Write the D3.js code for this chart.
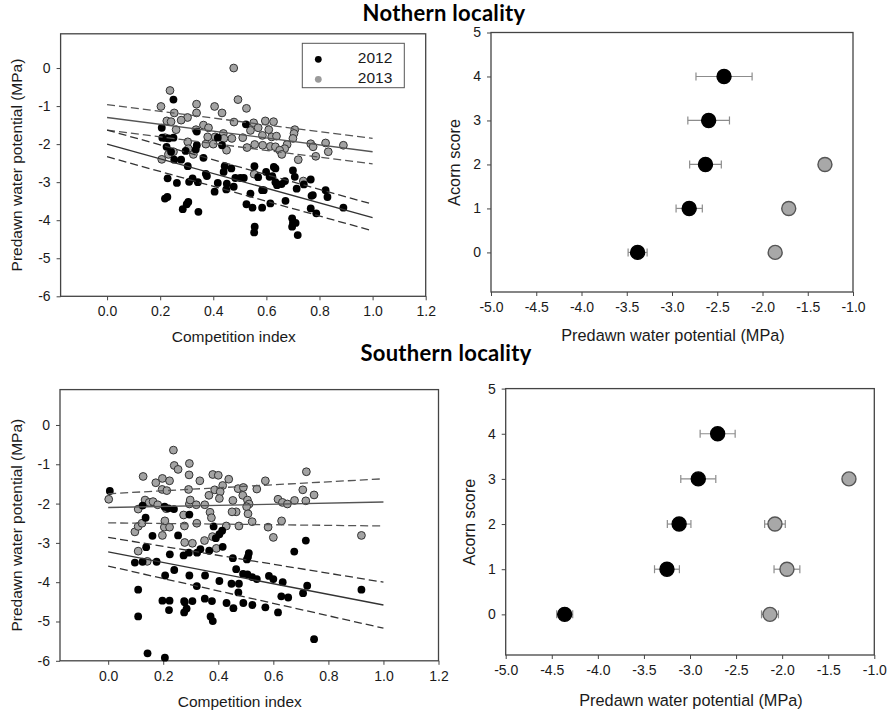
<!DOCTYPE html>
<html>
<head>
<meta charset="utf-8">
<script src="https://cdn.jsdelivr.net/npm/d3@7"></script>
<style>
  body { margin: 0; background: #fff; }
  svg { display: block; font-family: Arial, "Liberation Sans", sans-serif; }
  .tick text { font-size: 14px; fill: #1a1a1a; }
  .tick line { stroke: #444; }
  .title { font-family: Lato, "Open Sans", sans-serif; font-weight: bold; font-size: 22px; letter-spacing: 0.3px; }
</style>
</head>
<body>
<svg id="chart" width="890" height="720"></svg>
<script>
// ---- data ----
const competitionTicks = [0, 0.2, 0.4, 0.6, 0.8, 1.0, 1.2];
const potentialTicks = [-6, -5, -4, -3, -2, -1, 0];
const wpTicks = [-5, -4.5, -4, -3.5, -3, -2.5, -2, -1.5, -1];
const acornTicks = [0, 1, 2, 3, 4, 5];
const years = ["2012", "2013"];

// Northern locality, competition index vs predawn water potential
const north2012 = [
  [0.25,-0.83],[0.206,-1.57],[0.208,-1.83],[0.25,-1.83],[0.231,-1.85],[0.224,-2.07],[0.241,-2.2],
  [0.253,-2.41],[0.279,-2.41],[0.304,-2.58],[0.296,-2.18],[0.338,-2.03],[0.334,-2.14],[0.363,-2.36],
  [0.338,-1.67],[0.523,-1.48],[0.417,-1.83],[0.433,-2.03],[0.376,-2.84],[0.372,-2.78],[0.443,-2.58],
  [0.439,-2.73],[0.468,-2.64],[0.451,-3.04],[0.449,-3.19],[0.477,-3.12],[0.483,-2.89],[0.502,-2.89],
  [0.515,-2.89],[0.417,-3.02],[0.405,-3.25],[0.309,-2.99],[0.322,-2.9],[0.342,-3.0],[0.263,-3.02],
  [0.228,-2.9],[0.218,-3.43],[0.227,-3.39],[0.285,-3.71],[0.3,-3.58],[0.306,-3.52],[0.344,-3.78],
  [0.555,-2.58],[0.628,-2.6],[0.634,-2.64],[0.599,-2.73],[0.612,-2.86],[0.622,-2.84],[0.569,-2.87],
  [0.634,-3.0],[0.64,-3.08],[0.67,-2.97],[0.7,-2.69],[0.707,-2.86],[0.714,-3.17],[0.767,-2.93],
  [0.741,-3.06],[0.657,-3.05],[0.54,-3.3],[0.584,-3.21],[0.59,-3.21],[0.525,-3.58],[0.548,-3.67],
  [0.584,-3.67],[0.615,-3.56],[0.672,-3.49],[0.77,-3.36],[0.775,-3.34],[0.823,-3.21],[0.83,-3.39],
  [0.767,-3.69],[0.788,-3.82],[0.89,-3.67],[0.697,-3.95],[0.7,-4.07],[0.71,-4.07],[0.697,-4.17],
  [0.718,-4.39],[0.556,-4.17],[0.554,-4.32]
];
const north2013 = [
  [0.477,0.0],[0.237,-0.59],[0.493,-0.83],[0.203,-1.01],[0.337,-0.95],[0.405,-1.01],[0.525,-1.06],
  [0.337,-1.18],[0.253,-1.18],[0.433,-1.18],[0.478,-1.42],[0.596,-1.39],[0.627,-1.41],[0.552,-1.44],
  [0.303,-1.3],[0.279,-1.37],[0.225,-1.39],[0.241,-1.41],[0.363,-1.5],[0.382,-1.57],[0.569,-1.57],
  [0.609,-1.62],[0.335,-1.62],[0.26,-1.62],[0.707,-1.62],[0.704,-1.72],[0.438,-1.72],[0.407,-1.81],
  [0.379,-1.81],[0.511,-1.83],[0.585,-1.77],[0.62,-1.81],[0.638,-1.79],[0.47,-1.85],[0.218,-1.83],
  [0.7,-1.85],[0.54,-1.64],[0.304,-1.94],[0.372,-2.0],[0.4,-2.0],[0.556,-2.01],[0.586,-2.03],
  [0.615,-2.06],[0.634,-2.07],[0.527,-2.09],[0.678,-2.01],[0.669,-2.12],[0.65,-2.16],[0.658,-2.27],
  [0.767,-1.99],[0.776,-2.07],[0.823,-1.97],[0.89,-2.03],[0.833,-2.2],[0.786,-2.32],[0.72,-2.41],
  [0.306,-2.12],[0.325,-2.27],[0.206,-2.4],[0.231,-2.27],[0.25,-2.2],[0.554,-2.79],[0.739,-2.97],
  [0.44,-1.85],[0.45,-2.16]
];
// Southern locality
const south2012 = [
  [0.006,-1.68],[0.125,-2.05],[0.136,-2.36],[0.138,-3.11],[0.161,-2.82],[0.097,-3.5],[0.125,-3.48],
  [0.176,-3.48],[0.109,-4.19],[0.109,-4.87],[0.143,-5.81],[0.206,-5.92],[0.205,-2.08],[0.219,-2.12],
  [0.239,-2.14],[0.224,-3.29],[0.24,-3.69],[0.254,-2.81],[0.207,-3.83],[0.197,-4.47],[0.223,-4.47],
  [0.221,-4.71],[0.276,-4.48],[0.276,-4.77],[0.285,-4.67],[0.306,-4.48],[0.278,-4.51],[0.295,-2.28],
  [0.274,-3.32],[0.293,-3.25],[0.295,-3.83],[0.322,-4.1],[0.323,-3.25],[0.335,-3.16],[0.352,-3.83],
  [0.351,-4.42],[0.377,-4.48],[0.372,-4.87],[0.38,-4.99],[0.367,-3.2],[0.383,-2.58],[0.391,-2.88],
  [0.404,-2.78],[0.414,-2.69],[0.416,-3.1],[0.404,-3.97],[0.43,-4.53],[0.448,-4.04],[0.453,-3.39],
  [0.465,-3.67],[0.455,-4.66],[0.475,-4.04],[0.473,-4.26],[0.491,-4.53],[0.49,-3.79],[0.506,-3.8],
  [0.504,-3.42],[0.508,-3.35],[0.511,-3.26],[0.523,-3.87],[0.524,-4.58],[0.54,-3.92],[0.571,-4.64],
  [0.584,-3.84],[0.6,-3.92],[0.617,-4.77],[0.634,-4.0],[0.629,-4.36],[0.654,-4.39],[0.708,-4.28],
  [0.723,-4.09],[0.676,-3.22],[0.718,-2.94],[0.748,-5.45],[0.92,-4.19]
];
const south2013 = [
  [0.237,-0.64],[0.24,-1.03],[0.254,-1.13],[0.295,-0.98],[0.294,-1.27],[0.127,-1.31],[0.173,-1.47],
  [0.197,-1.36],[0.223,-1.42],[0.196,-1.64],[0.213,-1.67],[0.333,-1.42],[0.38,-1.26],[0.4,-1.28],
  [0.438,-1.38],[0.416,-1.54],[0.387,-1.65],[0.292,-1.64],[0.366,-1.79],[0.407,-1.7],[0.404,-1.87],
  [0.472,-1.62],[0.491,-1.59],[0.489,-1.79],[0.54,-1.63],[0.571,-1.42],[0.453,-1.92],[0.506,-1.91],
  [0.512,-2.01],[0.503,-2.08],[0.465,-2.21],[0.45,-2.21],[0.617,-1.89],[0.633,-1.97],[0.651,-2.01],
  [0.677,-1.92],[0.707,-1.65],[0.718,-1.93],[0.748,-1.78],[0.72,-1.19],[0.002,-1.89],[0.097,-2.72],
  [0.109,-2.58],[0.123,-2.5],[0.134,-1.91],[0.109,-2.14],[0.149,-1.97],[0.163,-1.95],[0.18,-2.03],
  [0.211,-2.13],[0.197,-2.81],[0.204,-2.6],[0.223,-2.6],[0.206,-2.44],[0.274,-2.29],[0.277,-2.57],
  [0.295,-2.01],[0.298,-1.91],[0.32,-2.03],[0.322,-2.5],[0.351,-2.03],[0.37,-2.22],[0.375,-2.36],
  [0.278,-2.99],[0.306,-3.01],[0.35,-2.94],[0.379,-2.84],[0.393,-3.14],[0.429,-2.57],[0.475,-2.57],
  [0.523,-2.46],[0.508,-2.26],[0.581,-2.6],[0.6,-2.86],[0.63,-2.44],[0.109,-3.21],[0.142,-3.47],
  [0.92,-2.81]
];

// regression fit and band values at competition index 0 and 1
const fitX = [0, 1];
const northFit2012 = { fit: [-2.0, -3.93], upper: [-1.63, -3.58], lower: [-2.33, -4.28] };
const northFit2013 = { fit: [-1.30, -2.20], upper: [-0.96, -1.85], lower: [-1.63, -2.52] };
const southFit2012 = { fit: [-3.23, -4.58], upper: [-2.86, -4.0], lower: [-3.59, -5.17] };
const southFit2013 = { fit: [-2.10, -1.96], upper: [-1.75, -1.37], lower: [-2.49, -2.57] };

// acorn score means and standard errors
const acornScores = [0, 1, 2, 3, 4];
const northMean2012 = [-3.38, -2.81, -2.63, -2.595, -2.425];
const northErr2012 = [0.105, 0.145, 0.175, 0.23, 0.31];
const northScores2013 = [0, 1, 2];
const northMean2013 = [-1.86, -1.71, -1.31];
const northErr2013 = [0.04, 0.04, 0.04];
const southMean2012 = [-4.36, -3.25, -3.118, -2.91, -2.70];
const southErr2012 = [0.087, 0.135, 0.128, 0.19, 0.19];
const southScores2013 = [0, 1, 2, 3];
const southMean2013 = [-2.132, -1.948, -2.078, -1.275];
const southErr2013 = [0.092, 0.14, 0.112, 0.03];

const svg = d3.select("#chart");
const fmt1 = (d) => d.toFixed(1);
const fmt0 = (d) => String(d);

function frame(box) {
  svg.append("rect")
    .attr("x", box.x0).attr("y", box.y0)
    .attr("width", box.x1 - box.x0).attr("height", box.y1 - box.y0)
    .attr("fill", "none").attr("stroke", "#444").attr("stroke-width", 1.3);
}

function axes(box, x, y, xt, yt, xf, yf) {
  svg.append("g")
    .attr("transform", `translate(0,${box.y1})`)
    .call(d3.axisBottom(x).tickValues(xt).tickFormat(xf).tickSize(4).tickSizeOuter(0).tickPadding(6))
    .call((g) => g.select(".domain").remove());
  svg.append("g")
    .attr("transform", `translate(${box.x0},0)`)
    .call(d3.axisLeft(y).tickValues(yt).tickFormat(yf).tickSize(4).tickSizeOuter(0).tickPadding(6))
    .call((g) => g.select(".domain").remove());
}

function label(text, x, y, rotate, size) {
  svg.append("text")
    .attr("transform", `translate(${x},${y})` + (rotate ? " rotate(-90)" : ""))
    .attr("text-anchor", "middle").attr("dominant-baseline", "middle")
    .attr("font-size", size || 16).attr("fill", "#1a1a1a")
    .text(text);
}

function scatterPanel(box, pts2012, pts2013, fit2012, fit2013, xlabelY) {
  const x = d3.scaleLinear().domain([-0.175, 1.2]).range([box.x0, box.x1]);
  const y = d3.scaleLinear().domain([-6, 0.9]).range([box.y1, box.y0]);
  frame(box);
  axes(box, x, y, competitionTicks, potentialTicks, fmt1, fmt0);

  const g = svg.append("g");
  g.selectAll("circle.y2013").data(pts2013).join("circle")
    .attr("cx", (d) => x(d[0])).attr("cy", (d) => y(d[1])).attr("r", 3.9)
    .attr("fill", "#a3a3a3").attr("stroke", "#333").attr("stroke-width", 1);
  g.selectAll("circle.y2012").data(pts2012).join("circle")
    .attr("cx", (d) => x(d[0])).attr("cy", (d) => y(d[1])).attr("r", 3.9)
    .attr("fill", "#000");

  const line = d3.line().x((d, i) => x(fitX[i])).y((d) => y(d));
  [[fit2013, "#555"], [fit2012, "#333"]].forEach(([f, c]) => {
    g.append("path").attr("d", line(f.fit)).attr("fill", "none").attr("stroke", c).attr("stroke-width", 1.3);
    [f.upper, f.lower].forEach((band) => {
      g.append("path").attr("d", line(band)).attr("fill", "none").attr("stroke", c)
        .attr("stroke-width", 1.3).attr("stroke-dasharray", "8,4");
    });
  });

  label("Competition index", x(0.5) - 6, xlabelY, false, 15.5);
  label("Predawn water potential (MPa)", 18, (box.y0 + box.y1) / 2, true, 15.5);
  return { x, y };
}

function acornPanel(box, mean12, err12, scores13, mean13, err13, xlabelY) {
  const x = d3.scaleLinear().domain([-5, -1]).range([box.x0, box.x1]);
  const y = d3.scaleLinear().domain([-0.9, 5]).range([box.y1, box.y0]);
  frame(box);
  axes(box, x, y, wpTicks, acornTicks, fmt1, fmt0);

  const rows12 = acornScores.map((s, i) => ({ s, m: mean12[i], e: err12[i], dark: true }));
  const rows13 = scores13.map((s, i) => ({ s, m: mean13[i], e: err13[i], dark: false }));
  const rows = rows13.concat(rows12);

  const g = svg.append("g");
  const eb = g.selectAll("g.err").data(rows).join("g").attr("stroke", "#8c8c8c").attr("stroke-width", 1.2);
  eb.append("line")
    .attr("x1", (d) => x(d.m - d.e)).attr("x2", (d) => x(d.m + d.e))
    .attr("y1", (d) => y(d.s)).attr("y2", (d) => y(d.s));
  eb.append("line")
    .attr("x1", (d) => x(d.m - d.e)).attr("x2", (d) => x(d.m - d.e))
    .attr("y1", (d) => y(d.s) - 4).attr("y2", (d) => y(d.s) + 4);
  eb.append("line")
    .attr("x1", (d) => x(d.m + d.e)).attr("x2", (d) => x(d.m + d.e))
    .attr("y1", (d) => y(d.s) - 4).attr("y2", (d) => y(d.s) + 4);

  g.selectAll("circle").data(rows).join("circle")
    .attr("cx", (d) => x(d.m)).attr("cy", (d) => y(d.s)).attr("r", 7)
    .attr("fill", (d) => (d.dark ? "#000" : "#a8a8a8"))
    .attr("stroke", (d) => (d.dark ? "#000" : "#555")).attr("stroke-width", 1.4);

  label("Predawn water potential (MPa)", x(-3) + 1, xlabelY, false, 16.3);
  label("Acorn score", box.x0 - 35, y(2) - 2, true, 16.3);
}

// ---- panels ----
const boxTL = { x0: 60.6, x1: 425.7, y0: 33.8, y1: 296.3 };
const boxTR = { x0: 491, x1: 853, y0: 32.5, y1: 292 };
const boxBL = { x0: 60, x1: 438.5, y0: 389.6, y1: 660.8 };
const boxBR = { x0: 505.7, x1: 874.3, y0: 388.6, y1: 655 };

scatterPanel(boxTL, north2012, north2013, northFit2012, northFit2013, 338);
acornPanel(boxTR, northMean2012, northErr2012, northScores2013, northMean2013, northErr2013, 337);
scatterPanel(boxBL, south2012, south2013, southFit2012, southFit2013, 703);
acornPanel(boxBR, southMean2012, southErr2012, southScores2013, southMean2013, southErr2013, 702);

// legend in the northern scatter panel
const legend = svg.append("g").attr("transform", "translate(302.3,43.3)");
legend.append("rect").attr("width", 102).attr("height", 44.4)
  .attr("fill", "#fff").attr("stroke", "#555").attr("stroke-width", 1);
legend.selectAll("circle").data(years).join("circle")
  .attr("cx", 16).attr("cy", (d, i) => 16 + i * 20).attr("r", 3.4)
  .attr("fill", (d, i) => (i === 0 ? "#000" : "#9a9a9a"));
legend.selectAll("text").data(years).join("text")
  .attr("x", 90).attr("y", (d, i) => 16 + i * 20)
  .attr("text-anchor", "end").attr("dominant-baseline", "middle")
  .attr("font-size", 15.5).attr("fill", "#1a1a1a")
  .text((d) => d);

// titles
svg.append("text").attr("class", "title").attr("x", 444).attr("y", 21)
  .attr("text-anchor", "middle").text("Nothern locality");
svg.append("text").attr("class", "title").attr("x", 446).attr("y", 361)
  .attr("text-anchor", "middle").text("Southern locality");
</script>
</body>
</html>
